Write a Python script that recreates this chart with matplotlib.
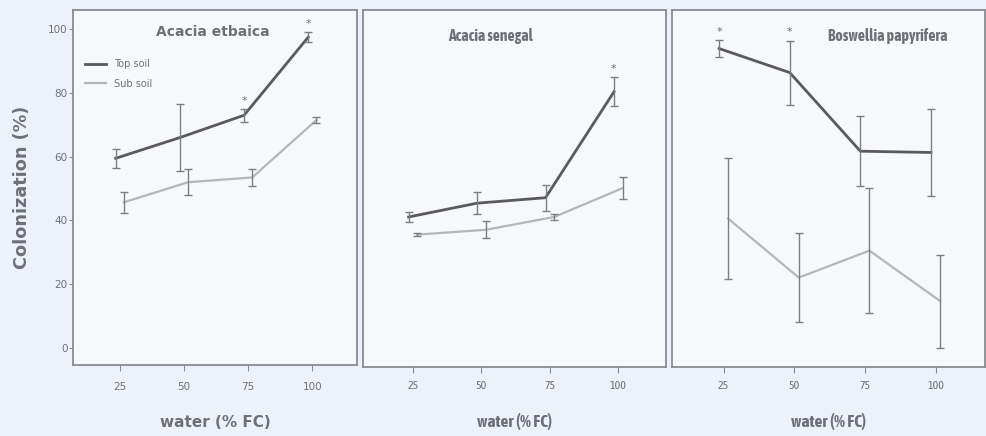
import matplotlib
matplotlib.use("Agg")
import matplotlib.pyplot as plt
from matplotlib import font_manager
import numpy as np

# ── Data ──────────────────────────────────────────────────────────────────────
water = [25, 50, 75, 100]
species = ["Acacia etbaica", "Acacia senegal", "Boswellia papyrifera"]

top_mean = [[59.5, 66.0, 73.0, 97.5],
            [41.5, 45.8, 47.5, 80.5],
            [94.0, 86.5, 62.0, 61.6]]
top_err = [[3.0, 10.5, 2.0, 1.5],
           [1.5, 3.5, 4.0, 4.5],
           [2.7, 10.0, 11.0, 13.6]]
sub_mean = [[45.7, 52.0, 53.5, 71.5],
            [36.0, 37.5, 41.5, 50.5],
            [41.0, 22.6, 31.0, 15.3]]
sub_err = [[3.3, 4.0, 2.7, 0.8],
           [0.5, 2.7, 1.0, 3.5],
           [18.8, 13.8, 19.5, 14.5]]
# significant differences marked with an asterisk (index into water)
stars = [[2, 3], [3], [0, 1]]

yticks = [0, 20, 40, 60, 80, 100]

# ── Style ─────────────────────────────────────────────────────────────────────
BG = "#edf2fa"
TOP = "#5a5a5e"
SUB = "#b4b6ba"
ERR = "#7c7e84"
SPINE = "#8a8c92"
TXT = "#6e7076"


def _is_bold(w):
    if isinstance(w, str):
        return w in ("bold", "semibold", "demibold", "heavy")
    return w >= 600


# condensed face (with a bold weight) for the two right panels
narrow_bold = sorted({f.name for f in font_manager.fontManager.ttflist
                      if ("Narrow" in f.name or "Condensed" in f.name)
                      and _is_bold(f.weight)})
if "Liberation Sans Narrow" in narrow_bold:
    NARROW = "Liberation Sans Narrow"
elif narrow_bold:
    NARROW = narrow_bold[0]
else:
    NARROW = "DejaVu Sans"

positions = [[0.074, 0.163, 0.288, 0.814],
             [0.368, 0.158, 0.307, 0.819],
             [0.681, 0.158, 0.317, 0.819]]
title_x = [0.49, 0.42, 0.69]
title_y = [0.935, 0.925, 0.925]
title_size = [10, 11.2, 11.3]
dodge = 1.6

fig = plt.figure(figsize=(9.87, 4.36), dpi=100, facecolor=BG)

for i, name in enumerate(species):
    ax = fig.add_axes(positions[i])
    ax.set_facecolor("#f6f8fc")
    xt = np.array(water, dtype=float) - dodge
    xs = np.array(water, dtype=float) + dodge

    ax.plot(xs, sub_mean[i], color=SUB, lw=1.6, zorder=2, label="Sub soil")
    ax.errorbar(xs, sub_mean[i], yerr=sub_err[i], fmt="none", ecolor=ERR,
                elinewidth=1.0, capsize=3, capthick=1.0, zorder=3)
    ax.plot(xt, top_mean[i], color=TOP, lw=2.0, zorder=4, label="Top soil")
    ax.errorbar(xt, top_mean[i], yerr=top_err[i], fmt="none", ecolor=ERR,
                elinewidth=1.0, capsize=3, capthick=1.0, zorder=5)

    for k in stars[i]:
        ax.text(xt[k], top_mean[i][k] + top_err[i][k] + 1.0, "*", ha="center",
                va="bottom", fontsize=8, color=TXT)

    ax.set_xlim(6.8, 117.5)
    ax.set_ylim(-5.3, 106)
    ax.set_xticks(water)
    for s in ax.spines.values():
        s.set_color(SPINE)
        s.set_linewidth(1.3)
    ax.tick_params(axis="x", colors=SPINE, labelcolor=TXT, labelsize=7.5,
                   length=4, pad=8)

    if i == 0:
        fam = "DejaVu Sans"
        ax.set_yticks(yticks)
        ax.tick_params(axis="y", colors=SPINE, labelcolor=TXT, labelsize=7.5,
                       length=3, pad=1)
        ax.set_ylabel("Colonization (%)", fontsize=12.7, fontweight="bold",
                      color=TXT, labelpad=12)
        ax.set_xlabel("water (% FC)", fontsize=11, fontweight="bold",
                      color=TXT, labelpad=17)
        handles, labels = ax.get_legend_handles_labels()
        ax.legend(handles[::-1], labels[::-1], loc="upper left",
                  bbox_to_anchor=(0.02, 0.878), frameon=False,
                  fontsize=7, handlelength=2.2, labelcolor=TXT,
                  labelspacing=1.0, borderaxespad=0.2)
    else:
        fam = NARROW
        ax.set_yticks([])
        ax.tick_params(axis="x", labelsize=8.5, pad=5)
        for lab in ax.get_xticklabels():
            lab.set_family(NARROW)
        ax.set_xlabel("water (% FC)", fontsize=12.5, fontweight="bold",
                      color=TXT, labelpad=16, family=NARROW)

    ax.set_title(name, fontsize=title_size[i], fontweight="bold", color=TXT,
                 x=title_x[i], y=title_y[i], va="top", family=fam)

fig.savefig("out.png", dpi=100, facecolor=BG)
